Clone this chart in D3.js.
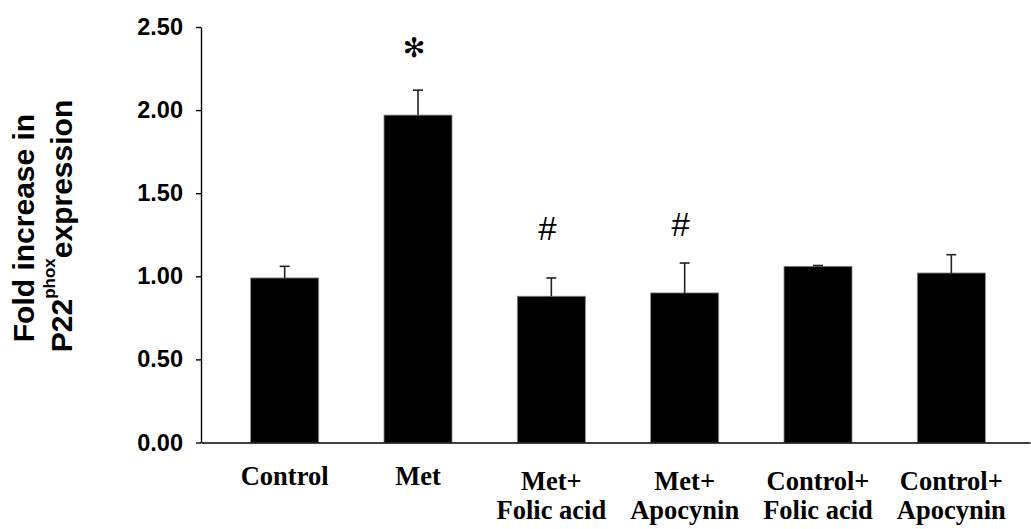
<!DOCTYPE html>
<html>
<head>
<meta charset="utf-8">
<script src="https://cdn.jsdelivr.net/npm/d3@7"></script>
<style>
  html, body { margin: 0; padding: 0; background: #fff; }
  svg { display: block; }
</style>
</head>
<body>
<svg id="chart" width="1031" height="529"></svg>
<script>
// Group labels (one entry per line of the label)
const categories = [
  ["Control"],
  ["Met"],
  ["Met+", "Folic acid"],
  ["Met+", "Apocynin"],
  ["Control+", "Folic acid"],
  ["Control+", "Apocynin"]
];
// Mean fold increase and standard error for each group
const means  = [0.99, 1.97, 0.88, 0.90, 1.06, 1.02];
const errors = [0.07, 0.15, 0.11, 0.18, 0.005, 0.11];
// Significance markers drawn above the bars
const marks  = ["", "\u273B", "#", "#", "", ""];
// Y-axis tick values
const yTicks = [0, 0.5, 1.0, 1.5, 2.0, 2.5];

const svg = d3.select("#chart");

const axisX = 201;
const y = d3.scaleLinear().domain([0, 2.5]).range([442.5, 27]);
const x = d3.scaleBand()
  .domain(d3.range(categories.length))
  .range([218, 1018])
  .paddingInner(0.49)
  .paddingOuter(0.245);

const data = means.map((m, i) => ({ i, m, e: errors[i], lines: categories[i], mark: marks[i] }));
const cx = d => x(d.i) + x.bandwidth() / 2;

// Bars
svg.append("g").selectAll("rect")
  .data(data).join("rect")
  .attr("x", d => x(d.i))
  .attr("y", d => y(d.m))
  .attr("width", x.bandwidth())
  .attr("height", d => y(0) - y(d.m))
  .attr("fill", "#000")
  .attr("stroke", "#888")
  .attr("stroke-width", 0.8);

// Upper error bars with caps
const eb = svg.append("g").attr("stroke", "#222").attr("stroke-width", 1.6);
eb.selectAll("line.v").data(data).join("line").attr("class", "v")
  .attr("x1", cx).attr("x2", cx)
  .attr("y1", d => y(d.m))
  .attr("y2", d => y(d.m + d.e));
eb.selectAll("line.c").data(data).join("line").attr("class", "c")
  .attr("x1", d => cx(d) - 5)
  .attr("x2", d => cx(d) + 5)
  .attr("y1", d => y(d.m + d.e))
  .attr("y2", d => y(d.m + d.e));

// Significance markers
svg.append("g").selectAll("text")
  .data(data.filter(d => d.mark)).join("text")
  .attr("x", d => cx(d) - 4)
  .attr("y", d => y(d.m) - 68)
  .attr("text-anchor", "middle")
  .attr("dominant-baseline", "central")
  .attr("font-family", d => d.mark === "#" ? "Liberation Sans, Arial, sans-serif" : "DejaVu Sans, sans-serif")
  .attr("font-size", d => d.mark === "#" ? 33 : 27)
  .attr("fill", "#000")
  .text(d => d.mark);

// Y axis
const yAxis = svg.append("g")
  .attr("transform", `translate(${axisX},0)`)
  .call(d3.axisLeft(y).tickValues(yTicks).tickFormat(d3.format(".2f"))
    .tickSize(5).tickSizeOuter(0).tickPadding(13));
yAxis.selectAll("path, line").attr("stroke", "#000").attr("stroke-width", 1.4);
yAxis.selectAll("text")
  .attr("font-family", "Liberation Sans, Arial, sans-serif")
  .attr("font-weight", "bold")
  .attr("font-size", 23.5)
  .attr("fill", "#000");

// X axis baseline
const xLine = d3.scaleLinear().range([axisX, 1030]);
const xAxis = svg.append("g")
  .attr("transform", `translate(0,${y(0)})`)
  .call(d3.axisBottom(xLine).ticks(0).tickSizeOuter(0));
xAxis.selectAll("path").attr("stroke", "#000").attr("stroke-width", 1.4);
xAxis.selectAll(".tick").remove();

// Category labels
const lab = svg.append("g")
  .attr("font-family", "Liberation Serif, 'Times New Roman', serif")
  .attr("font-weight", "bold")
  .attr("font-size", 26.5)
  .attr("fill", "#000")
  .attr("text-anchor", "middle");
lab.selectAll("text").data(data).join("text")
  .attr("x", cx)
  .attr("y", d => d.lines.length === 1 ? 484.5 : 490)
  .each(function (d) {
    d3.select(this).selectAll("tspan").data(d.lines).join("tspan")
      .attr("x", cx(d))
      .attr("dy", (t, k) => k === 0 ? 0 : 29)
      .text(t => t);
  });

// Y axis title
const title = svg.append("g")
  .attr("font-family", "Liberation Sans, Arial, sans-serif")
  .attr("font-weight", "bold")
  .attr("font-size", 30)
  .attr("fill", "#000")
  .attr("text-anchor", "middle");
title.append("text")
  .attr("transform", "translate(34,228) rotate(-90)")
  .text("Fold increase in");
const t2 = title.append("text")
  .attr("transform", "translate(72,226) rotate(-90)");
t2.append("tspan").text("P22");
t2.append("tspan").attr("font-size", 17).attr("dy", -17).text("phox");
t2.append("tspan").attr("dy", 17).text("expression");
</script>
</body>
</html>
